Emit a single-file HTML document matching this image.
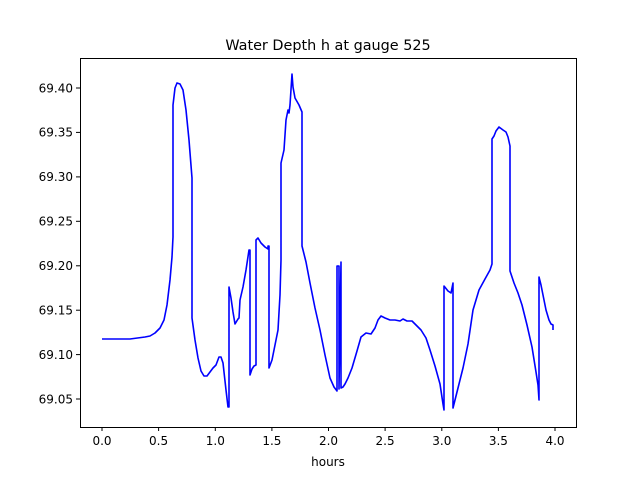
<!DOCTYPE html>
<html><head><meta charset="utf-8"><style>
html,body{margin:0;padding:0;background:#fff;}
svg{display:block;font-family:"DejaVu Sans","Liberation Sans",sans-serif;}
</style></head><body>
<svg width="640" height="480" viewBox="0 0 640 480" xmlns="http://www.w3.org/2000/svg">
<rect width="640" height="480" fill="#fff"/>
<text x="328" y="50" font-size="14.4" text-anchor="middle">Water Depth h at gauge 525</text>
<polyline fill="none" stroke="#0000ff" stroke-width="1.6" stroke-linejoin="round" points="102,339 130,339 145,337 150,336 155,333 160,328 164,320 167,305 170,280 172,257 173,237 173,105 175,88 177,83 180,84 183,90 186,110 189,140 192,178 192,318 195,340 198,358 201,371 204,376 207,376 210,372 213,368 216,365 219,357 221,357 223,363 226,390 228,407 229,407 229,287 231,298 233,312 235,324 238,319 239,318 240,300 243,287 246,270 249,250 250,250 250,375 252,369 254,366 256,365 256,240 258,238 261,243 265,247 268,249 268,246 269,246 269,368 272,360 275,345 278,330 280,295 281,260 281,163 284,150 286,120 288,110 289,113 290,105 292,74 293,87 295,98 299,105 302,112 302,246 306,262 310,283 315,308 320,330 325,355 330,378 334,387 337,391 337,266 339,266 339,389 341,262 341,388 343,387 345,384 348,378 352,368 357,351 361,337 366,333 371,334 375,328 378,320 381,316 385,318 390,320 395,320 400,321 403,319 407,321 412,321 416,325 421,330 426,338 430,350 435,366 440,384 443,404 444,410 444,286 448,291 451,293 453,283 453,408 458,388 463,368 468,344 473,310 479,290 485,279 490,270 492,264 492,139 494,136 496,131 499,127 503,130 506,132 508,137 510,146 510,271 514,283 518,293 522,305 527,325 532,347 536,372 538,385 539,400 539,277 541,285 543,295 546,310 549,320 551,324 553,325 553,330"/>
<rect x="80.5" y="58.5" width="496" height="369" fill="none" stroke="#000" stroke-width="1"/>
<g stroke="#000" stroke-width="1">
<line x1="102" y1="427" x2="102" y2="431"/><line x1="158.6" y1="427" x2="158.6" y2="431"/><line x1="215.3" y1="427" x2="215.3" y2="431"/><line x1="271.9" y1="427" x2="271.9" y2="431"/><line x1="328.5" y1="427" x2="328.5" y2="431"/><line x1="385.1" y1="427" x2="385.1" y2="431"/><line x1="441.8" y1="427" x2="441.8" y2="431"/><line x1="498.4" y1="427" x2="498.4" y2="431"/><line x1="555" y1="427" x2="555" y2="431"/>
<line x1="76" y1="399" x2="80" y2="399"/><line x1="76" y1="354.6" x2="80" y2="354.6"/><line x1="76" y1="310.2" x2="80" y2="310.2"/><line x1="76" y1="265.8" x2="80" y2="265.8"/><line x1="76" y1="221.3" x2="80" y2="221.3"/><line x1="76" y1="176.9" x2="80" y2="176.9"/><line x1="76" y1="132.4" x2="80" y2="132.4"/><line x1="76" y1="88" x2="80" y2="88"/>
</g>
<g font-size="12" text-anchor="middle">
<text x="102" y="445">0.0</text><text x="158.6" y="445">0.5</text><text x="215.3" y="445">1.0</text><text x="271.9" y="445">1.5</text><text x="328.5" y="445">2.0</text><text x="385.1" y="445">2.5</text><text x="441.8" y="445">3.0</text><text x="498.4" y="445">3.5</text><text x="555" y="445">4.0</text>
<text x="328" y="466">hours</text>
</g>
<g font-size="12" text-anchor="end">
<text x="73" y="403.5">69.05</text><text x="73" y="359">69.10</text><text x="73" y="314.5">69.15</text><text x="73" y="270">69.20</text><text x="73" y="225.5">69.25</text><text x="73" y="181">69.30</text><text x="73" y="136.5">69.35</text><text x="73" y="92.5">69.40</text>
</g>
</svg>
</body></html>
